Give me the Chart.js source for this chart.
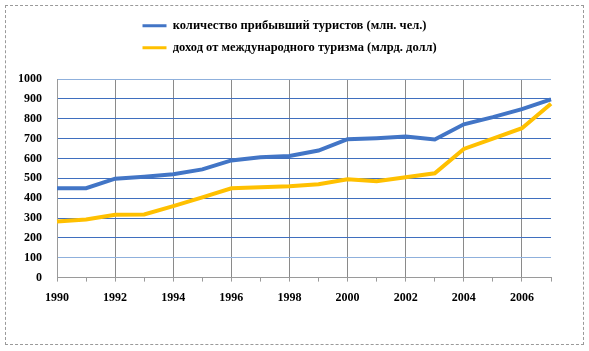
<!DOCTYPE html>
<html>
<head>
<meta charset="utf-8">
<script src="https://cdn.jsdelivr.net/npm/chart.js@4"></script>
<style>
    html, body { margin: 0; padding: 0; background: #fff; }
    #wrap { position: relative; width: 589px; height: 351px; }
    #frame {
        position: absolute; left: 5px; top: 5px; width: 577px; height: 338px;
        border: 1px dashed #9a9a9a; pointer-events: none;
    }
</style>
</head>
<body>
<div id="wrap">
    <canvas id="tourismChart" width="589" height="351"></canvas>
    <div id="frame"></div>
</div>
<script>
const years = ['1990', '1991', '1992', '1993', '1994', '1995', '1996', '1997', '1998',
    '1999', '2000', '2001', '2002', '2003', '2004', '2005', '2006', '2007'];
const arrivals = [450, 450, 498, 508, 520, 545, 590, 606, 612, 640, 697, 702, 710, 695, 772, 808, 848, 897];
const receipts = [283, 293, 316, 318, 360, 404, 450, 455, 460, 470, 495, 485, 505, 525, 648, 700, 752, 875];
const arrivalsLabel = 'количество прибывший туристов (млн. чел.)';
const receiptsLabel = 'доход от международного туризма (млрд. долл)';

const serif = '"Liberation Serif", "Times New Roman", serif';

// legend sits in a left-aligned column, with a gap above the plot
const legendTweak = {
    id: 'legendTweak',
    beforeInit(chart) {
        const fit = chart.legend.fit;
        chart.legend.fit = function () {
            fit.call(this);
            this.height += 15;
        };
    },
    afterLayout(chart) {
        chart.legend.left = 133;
    },
};

new Chart(document.getElementById('tourismChart'), {
    type: 'line',
    data: {
        labels: years,
        datasets: [
            {
                label: arrivalsLabel,
                data: arrivals,
                borderColor: '#4275c6',
                backgroundColor: '#4275c6',
                borderWidth: 4,
                pointRadius: 0,
                tension: 0,
                fill: false,
            },
            {
                label: receiptsLabel,
                data: receipts,
                borderColor: '#ffc000',
                backgroundColor: '#ffc000',
                borderWidth: 4,
                pointRadius: 0,
                tension: 0,
                fill: false,
            },
        ],
    },
    options: {
        responsive: false,
        animation: false,
        layout: { padding: { left: 3, right: 38, top: 10, bottom: 37 } },
        plugins: {
            legend: {
                align: 'start',
                labels: {
                    boxWidth: 24,
                    boxHeight: 3,
                    padding: 9.5,
                    color: '#000',
                    font: { family: serif, size: 12.5, weight: 'bold' },
                    generateLabels: (chart) =>
                        Chart.defaults.plugins.legend.labels.generateLabels(chart).map((item) => ({
                            ...item,
                            lineWidth: 0,
                        })),
                },
            },
            tooltip: { enabled: false },
        },
        scales: {
            x: {
                offset: false,
                border: { color: '#9a9a9a' },
                grid: {
                    color: (c) => (c.index % 2 === 0 && c.index > 0 ? '#8a8a8a' : 'rgba(0,0,0,0)'),
                    tickColor: '#9a9a9a',
                    tickLength: 4,
                },
                ticks: {
                    autoSkip: false,
                    maxRotation: 0,
                    padding: 9,
                    color: '#000',
                    font: { family: serif, size: 12, weight: 'bold' },
                    callback: (v, i) => (i % 2 === 0 && i < years.length - 1 ? years[i] : ''),
                },
            },
            y: {
                min: 0,
                max: 1000,
                border: { color: '#9a9a9a' },
                grid: {
                    drawTicks: false,
                    color: (c) => {
                        const v = c.tick.value;
                        if (v === 0) return 'rgba(0,0,0,0)';
                        if (v === 100 || v === 1000) return '#8fb0dc';
                        return '#3f6fbf';
                    },
                },
                ticks: {
                    stepSize: 100,
                    padding: 15,
                    color: '#000',
                    font: { family: serif, size: 12, weight: 'bold' },
                    callback: (v) => String(v),
                },
            },
        },
    },
    plugins: [legendTweak],
});
</script>
</body>
</html>
